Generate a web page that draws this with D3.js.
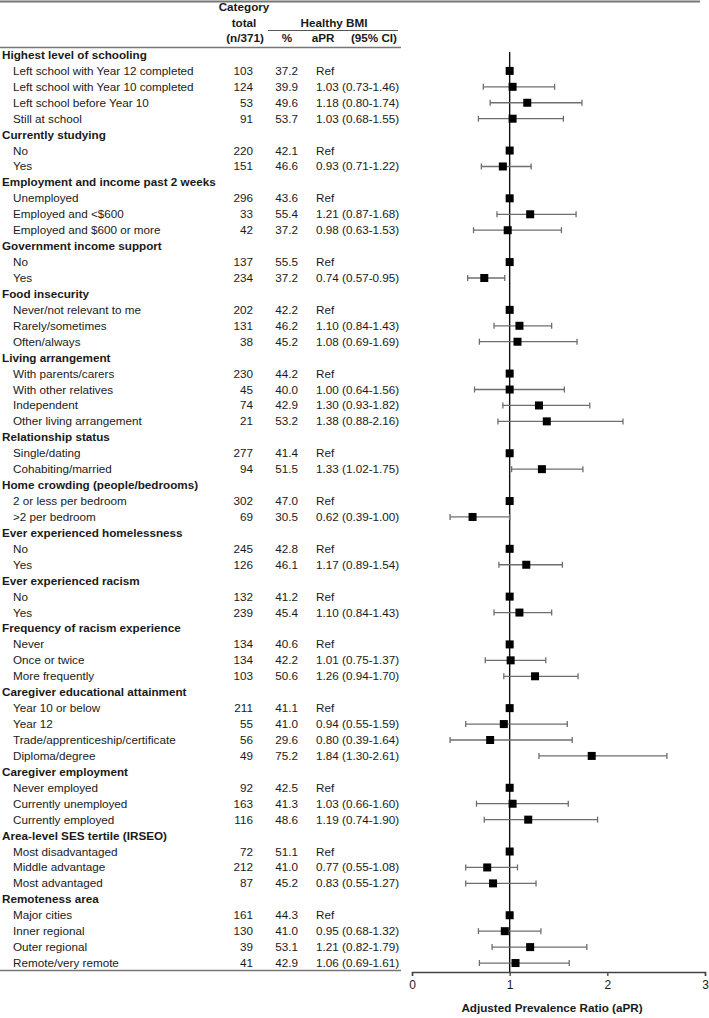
<!DOCTYPE html>
<html>
<head>
<meta charset="utf-8">
<script src="https://cdn.jsdelivr.net/npm/d3@7"></script>
<style>
body { margin: 0; background: #fff; }
text { font-family: "Liberation Sans", Arial, Helvetica, sans-serif; fill: #1a1a1a; }
</style>
</head>
<body>
<div id="viz"></div>
<script>
// groups and the rows that belong to them
var groups = [
	"Highest level of schooling",
	"Currently studying",
	"Employment and income past 2 weeks",
	"Government income support",
	"Food insecurity",
	"Living arrangement",
	"Relationship status",
	"Home crowding (people/bedrooms)",
	"Ever experienced homelessness",
	"Ever experienced racism",
	"Frequency of racism experience",
	"Caregiver educational attainment",
	"Caregiver employment",
	"Area-level SES tertile (IRSEO)",
	"Remoteness area"
];
var groupOf = [0,0,0,0, 1,1, 2,2,2, 3,3, 4,4,4, 5,5,5,5, 6,6, 7,7, 8,8, 9,9, 10,10,10, 11,11,11,11, 12,12,12, 13,13,13, 14,14,14,14];
var labels = [
	"Left school with Year 12 completed", "Left school with Year 10 completed", "Left school before Year 10", "Still at school",
	"No", "Yes",
	"Unemployed", "Employed and <$600", "Employed and $600 or more",
	"No", "Yes",
	"Never/not relevant to me", "Rarely/sometimes", "Often/always",
	"With parents/carers", "With other relatives", "Independent", "Other living arrangement",
	"Single/dating", "Cohabiting/married",
	"2 or less per bedroom", ">2 per bedroom",
	"No", "Yes",
	"No", "Yes",
	"Never", "Once or twice", "More frequently",
	"Year 10 or below", "Year 12", "Trade/apprenticeship/certificate", "Diploma/degree",
	"Never employed", "Currently unemployed", "Currently employed",
	"Most disadvantaged", "Middle advantage", "Most advantaged",
	"Major cities", "Inner regional", "Outer regional", "Remote/very remote"
];
var nTotal = [103,124,53,91, 220,151, 296,33,42, 137,234, 202,131,38, 230,45,74,21, 277,94, 302,69, 245,126, 132,239, 134,134,103, 211,55,56,49, 92,163,116, 72,212,87, 161,130,39,41];
var pctHealthy = ["37.2","39.9","49.6","53.7", "42.1","46.6", "43.6","55.4","37.2", "55.5","37.2", "42.2","46.2","45.2", "44.2","40.0","42.9","53.2", "41.4","51.5", "47.0","30.5", "42.8","46.1", "41.2","45.4", "40.6","42.2","50.6", "41.1","41.0","29.6","75.2", "42.5","41.3","48.6", "51.1","41.0","45.2", "44.3","41.0","53.1","42.9"];
// null = reference category
var aPR   = [null,1.03,1.18,1.03, null,0.93, null,1.21,0.98, null,0.74, null,1.10,1.08, null,1.00,1.30,1.38, null,1.33, null,0.62, null,1.17, null,1.10, null,1.01,1.26, null,0.94,0.80,1.84, null,1.03,1.19, null,0.77,0.83, null,0.95,1.21,1.06];
var ciLow = [null,0.73,0.80,0.68, null,0.71, null,0.87,0.63, null,0.57, null,0.84,0.69, null,0.64,0.93,0.88, null,1.02, null,0.39, null,0.89, null,0.84, null,0.75,0.94, null,0.55,0.39,1.30, null,0.66,0.74, null,0.55,0.55, null,0.68,0.82,0.69];
var ciHigh= [null,1.46,1.74,1.55, null,1.22, null,1.68,1.53, null,0.95, null,1.43,1.69, null,1.56,1.82,2.16, null,1.75, null,1.00, null,1.54, null,1.43, null,1.37,1.70, null,1.59,1.64,2.61, null,1.60,1.90, null,1.08,1.27, null,1.32,1.79,1.61];
var xTicks = [0, 1, 2, 3];

// build the row list: a header row per group then its items
var rows = [];
groups.forEach(function(g, gi){
	rows.push({type: "group", label: g});
	labels.forEach(function(l, i){
		if (groupOf[i] === gi) {
			rows.push({type: "item", label: l, n: nTotal[i], pct: pctHealthy[i],
				apr: aPR[i], lo: ciLow[i], hi: ciHigh[i]});
		}
	});
});

var W = 709, H = 1018, fs = 11.7;

var svg = d3.select("#viz")
	.append("svg")
	.attr("width", W)
	.attr("height", H);

var y = d3.scaleBand()
	.domain(d3.range(rows.length))
	.range([47, 971]);
var yc = function(i){ return y(i) + y.bandwidth() / 2; };

var x = d3.scaleLinear()
	.domain([0, 3])
	.range([412, 705]);

// rules
svg.append("line").attr("x1", 0).attr("x2", 700).attr("y1", 1.5).attr("y2", 1.5)
	.attr("stroke", "#777").attr("stroke-width", 2);
svg.append("line").attr("x1", 268).attr("x2", 398).attr("y1", 30.5).attr("y2", 30.5)
	.attr("stroke", "#555").attr("stroke-width", 1);
svg.append("line").attr("x1", 0).attr("x2", 401).attr("y1", 47.5).attr("y2", 47.5)
	.attr("stroke", "#777").attr("stroke-width", 1.5);
svg.append("line").attr("x1", 0).attr("x2", 401).attr("y1", 970.5).attr("y2", 970.5)
	.attr("stroke", "#777").attr("stroke-width", 1.5);

// column headers
var hdr = svg.append("g").attr("font-size", fs).attr("font-weight", "bold");
hdr.append("text").attr("x", 244).attr("y", 11).attr("text-anchor", "middle").text("Category");
hdr.append("text").attr("x", 244).attr("y", 27).attr("text-anchor", "middle").text("total");
hdr.append("text").attr("x", 245).attr("y", 42).attr("text-anchor", "middle").text("(n/371)");
hdr.append("text").attr("x", 334).attr("y", 27).attr("text-anchor", "middle").text("Healthy BMI");
hdr.append("text").attr("x", 287).attr("y", 42).attr("text-anchor", "middle").text("%");
hdr.append("text").attr("x", 323).attr("y", 42).attr("text-anchor", "middle").text("aPR");
hdr.append("text").attr("x", 397).attr("y", 42).attr("text-anchor", "end").text("(95% CI)");

// table rows
var gs = svg.selectAll("g.row")
	.data(rows)
	.enter()
	.append("g")
	.attr("class", "row")
	.attr("font-size", fs)
	.attr("transform", function(d, i){ return "translate(0," + (yc(i) + 4) + ")"; });

gs.append("text")
	.attr("x", function(d){ return d.type === "group" ? 2 : 13; })
	.attr("font-weight", function(d){ return d.type === "group" ? "bold" : null; })
	.text(function(d){ return d.label; });

var items = gs.filter(function(d){ return d.type === "item"; });
items.append("text").attr("x", 253).attr("text-anchor", "end").text(function(d){ return d.n; });
items.append("text").attr("x", 298).attr("text-anchor", "end").text(function(d){ return d.pct; });
items.append("text").attr("x", 316).text(function(d){ return d.apr === null ? "Ref" : d.apr.toFixed(2); });
items.append("text").attr("x", 342).text(function(d){
	return d.apr === null ? "" : "(" + d.lo.toFixed(2) + "-" + d.hi.toFixed(2) + ")";
});

// forest plot
var plot = svg.append("g");
plot.append("line")
	.attr("x1", x(1)).attr("x2", x(1))
	.attr("y1", 52).attr("y2", 972)
	.attr("stroke", "#111").attr("stroke-width", 1.4);

var pts = rows.map(function(d, i){ return {d: d, i: i}; })
	.filter(function(p){ return p.d.type === "item"; });

var ci = pts.filter(function(p){ return p.d.apr !== null; });
var cis = plot.selectAll("g.ci").data(ci).enter().append("g").attr("class", "ci")
	.attr("stroke", "#6e6e6e").attr("stroke-width", 1.3);
cis.append("line")
	.attr("x1", function(p){ return x(p.d.lo); })
	.attr("x2", function(p){ return x(p.d.hi); })
	.attr("y1", function(p){ return yc(p.i); })
	.attr("y2", function(p){ return yc(p.i); });
cis.append("line")
	.attr("x1", function(p){ return x(p.d.lo); })
	.attr("x2", function(p){ return x(p.d.lo); })
	.attr("y1", function(p){ return yc(p.i) - 3; })
	.attr("y2", function(p){ return yc(p.i) + 3; });
cis.append("line")
	.attr("x1", function(p){ return x(p.d.hi); })
	.attr("x2", function(p){ return x(p.d.hi); })
	.attr("y1", function(p){ return yc(p.i) - 3; })
	.attr("y2", function(p){ return yc(p.i) + 3; });

var sq = 8;
plot.selectAll("rect.pt").data(pts).enter().append("rect")
	.attr("class", "pt")
	.attr("x", function(p){ return x(p.d.apr === null ? 1 : p.d.apr) - sq / 2; })
	.attr("y", function(p){ return yc(p.i) - sq / 2; })
	.attr("width", sq).attr("height", sq)
	.attr("fill", "#000");

// x axis
var axis = svg.append("g")
	.attr("transform", "translate(0,972)")
	.call(d3.axisBottom(x).tickValues(xTicks).tickFormat(d3.format("d")).tickSize(4).tickPadding(4));
axis.select(".domain").attr("stroke", "#444").attr("stroke-width", 1.5);
axis.selectAll(".tick line").attr("stroke", "#444").attr("stroke-width", 1.3);
axis.selectAll(".tick text").attr("font-size", 12).attr("fill", "#333")
	.attr("font-family", "Liberation Sans, Arial, sans-serif");

svg.append("text")
	.attr("x", 552).attr("y", 1012)
	.attr("text-anchor", "middle")
	.attr("font-size", fs).attr("font-weight", "bold")
	.text("Adjusted Prevalence Ratio (aPR)");
</script>
</body>
</html>
